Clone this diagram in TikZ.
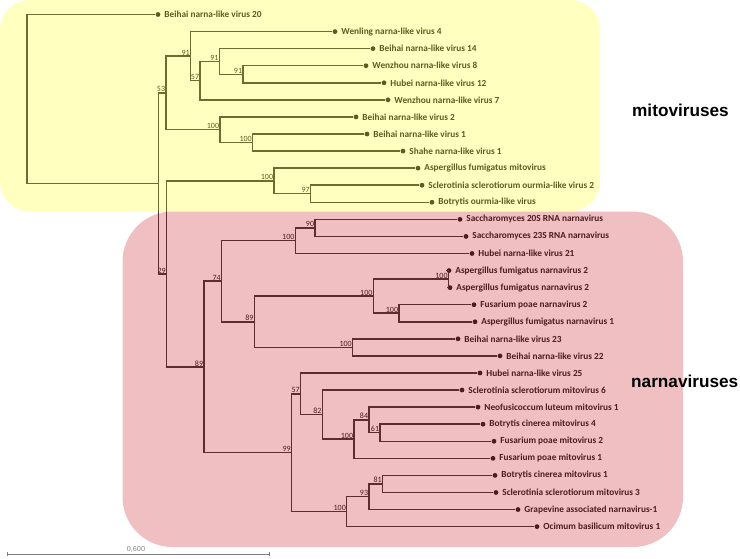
\documentclass[tikz,border=0pt]{standalone}
\usepackage{fontspec}
\setmainfont{Carlito}
\newfontfamily\cladefont{Liberation Sans}
\usetikzlibrary{positioning,arrows.meta}
\definecolor{ink}{HTML}{262626}
\definecolor{mitoyellow}{RGB}{255,255,0}
\definecolor{narnared}{RGB}{190,0,8}
\definecolor{bargray}{HTML}{7F7F7F}
\tikzset{
  branch/.style={draw=ink!90,line width=1.5pt},
  tip/.style={circle,fill=ink,inner sep=0pt,minimum size=4.8pt},
  leaf/.style={anchor=west,inner sep=0pt,xshift=3.6pt,text=ink,font=\bfseries\fontsize{9.3}{11}\selectfont},
  bs/.style={anchor=south east,inner sep=0.7pt,text=ink,font=\fontsize{8}{9}\selectfont},
  cladebox/.style={fill=#1,fill opacity=0.25},
  cladename/.style={anchor=west,inner sep=0pt,font=\cladefont\bfseries\fontsize{17.2}{20}\selectfont},
  scalebar/.style={draw=bargray,line width=0.9pt,{Bar[width=4pt]}-{Bar[width=4pt]}},
}

\begin{document}
\begin{tikzpicture}[x=1pt,y=-1pt]
\useasboundingbox (0,0) rectangle (740,558);
% tips
\node[tip] (l1)  at (158,14.5)  {}; \node[leaf] (t1)  at (l1.east)  {Beihai narna-like virus 20};
\node[tip] (l2)  at (335,31.57) {}; \node[leaf] (t2)  at (l2.east)  {Wenling narna-like virus 4};
\node[tip] (l3)  at (373,48.64) {}; \node[leaf] (t3)  at (l3.east)  {Beihai narna-like virus 14};
\node[tip] (l4)  at (366,65.71) {}; \node[leaf] (t4)  at (l4.east)  {Wenzhou narna-like virus 8};
\node[tip] (l5)  at (384,82.78) {}; \node[leaf] (t5)  at (l5.east)  {Hubei narna-like virus 12};
\node[tip] (l6)  at (388,99.85) {}; \node[leaf] (t6)  at (l6.east)  {Wenzhou narna-like virus 7};
\node[tip] (l7)  at (356,116.92) {}; \node[leaf] (t7)  at (l7.east)  {Beihai narna-like virus 2};
\node[tip] (l8)  at (367,133.99) {}; \node[leaf] (t8)  at (l8.east)  {Beihai narna-like virus 1};
\node[tip] (l9)  at (403,151.06) {}; \node[leaf] (t9)  at (l9.east)  {Shahe narna-like virus 1};
\node[tip] (l10) at (418,168.13) {}; \node[leaf] (t10) at (l10.east) {Aspergillus fumigatus mitovirus};
\node[tip] (l11) at (422,185.2)  {}; \node[leaf] (t11) at (l11.east) {Sclerotinia sclerotiorum ourmia-like virus 2};
\node[tip] (l12) at (432,202.27) {}; \node[leaf] (t12) at (l12.east) {Botrytis ourmia-like virus};
\node[tip] (l13) at (460,219.34) {}; \node[leaf] (t13) at (l13.east) {Saccharomyces 20S RNA narnavirus};
\node[tip] (l14) at (466,236.41) {}; \node[leaf] (t14) at (l14.east) {Saccharomyces 23S RNA narnavirus};
\node[tip] (l15) at (472,253.48) {}; \node[leaf] (t15) at (l15.east) {Hubei narna-like virus 21};
\node[tip] (l16) at (449,270.55) {}; \node[leaf] (t16) at (l16.east) {Aspergillus fumigatus narnavirus 2};
\node[tip] (l17) at (450,287.62) {}; \node[leaf] (t17) at (l17.east) {Aspergillus fumigatus narnavirus 2};
\node[tip] (l18) at (474,304.69) {}; \node[leaf] (t18) at (l18.east) {Fusarium poae narnavirus 2};
\node[tip] (l19) at (475,321.76) {}; \node[leaf] (t19) at (l19.east) {Aspergillus fumigatus narnavirus 1};
\node[tip] (l20) at (458,338.83) {}; \node[leaf] (t20) at (l20.east) {Beihai narna-like virus 23};
\node[tip] (l21) at (500,355.9)  {}; \node[leaf] (t21) at (l21.east) {Beihai narna-like virus 22};
\node[tip] (l22) at (480,372.97) {}; \node[leaf] (t22) at (l22.east) {Hubei narna-like virus 25};
\node[tip] (l23) at (462,390.04) {}; \node[leaf] (t23) at (l23.east) {Sclerotinia sclerotiorum mitovirus 6};
\node[tip] (l24) at (478,407.11) {}; \node[leaf] (t24) at (l24.east) {Neofusicoccum luteum mitovirus 1};
\node[tip] (l25) at (483,424.18) {}; \node[leaf] (t25) at (l25.east) {Botrytis cinerea mitovirus 4};
\node[tip] (l26) at (494,441.25) {}; \node[leaf] (t26) at (l26.east) {Fusarium poae mitovirus 2};
\node[tip] (l27) at (493,458.32) {}; \node[leaf] (t27) at (l27.east) {Fusarium poae mitovirus 1};
\node[tip] (l28) at (495,475.39) {}; \node[leaf] (t28) at (l28.east) {Botrytis cinerea mitovirus 1};
\node[tip] (l29) at (496,492.46) {}; \node[leaf] (t29) at (l29.east) {Sclerotinia sclerotiorum mitovirus 3};
\node[tip] (l30) at (518,509.53) {}; \node[leaf] (t30) at (l30.east) {Grapevine associated narnavirus-1};
\node[tip] (l31) at (537,526.6)  {}; \node[leaf] (t31) at (l31.east) {Ocimum basilicum mitovirus 1};
% internal nodes
\coordinate (r0) at (27,98.97);    \coordinate (A) at (158.3,183.44);
\coordinate (B) at (166,92.92);    \coordinate (C) at (166.7,273.95);
\coordinate (D) at (190.7,56.11);  \coordinate (E) at (220,129.72);
\coordinate (F) at (200,80.65);    \coordinate (G) at (219.3,61.44);
\coordinate (H) at (243,74.25);    \coordinate (I) at (252.7,142.53);
\coordinate (J) at (274,180.93);   \coordinate (L) at (310.7,193.74);
\coordinate (K) at (204,366.97);   \coordinate (M) at (221.7,281.22);
\coordinate (O) at (295.3,240.68); \coordinate (Q) at (315,227.88);
\coordinate (P) at (254.3,321.76); \coordinate (R) at (373.3,296.16);
\coordinate (T) at (448.5,279.09); \coordinate (U) at (399,313.23);
\coordinate (S) at (352.7,347.37); \coordinate (N) at (291.7,452.72);
\coordinate (V) at (300.7,393.78); \coordinate (W) at (322.3,414.58);
\coordinate (X) at (354,439.12);   \coordinate (Y) at (369,419.91);
\coordinate (Z) at (380,432.72);   \coordinate (AA) at (346.7,511.67);
\coordinate (BB) at (369,496.73);  \coordinate (CC) at (382.7,483.93);
% branches
\draw[branch] (r0) |- (l1); \draw[branch] (r0) |- (A);
\draw[branch] (A) |- (B);   \draw[branch] (A) |- (C);
\draw[branch] (B) |- (D);   \draw[branch] (B) |- (E);
\draw[branch] (D) |- (l2);  \draw[branch] (D) |- (F);
\draw[branch] (F) |- (G);   \draw[branch] (F) |- (l6);
\draw[branch] (G) |- (l3);  \draw[branch] (G) |- (H);
\draw[branch] (H) |- (l4);  \draw[branch] (H) |- (l5);
\draw[branch] (E) |- (l7);  \draw[branch] (E) |- (I);
\draw[branch] (I) |- (l8);  \draw[branch] (I) |- (l9);
\draw[branch] (C) |- (J);   \draw[branch] (C) |- (K);
\draw[branch] (J) |- (l10); \draw[branch] (J) |- (L);
\draw[branch] (L) |- (l11); \draw[branch] (L) |- (l12);
\draw[branch] (K) |- (M);   \draw[branch] (K) |- (N);
\draw[branch] (M) |- (O);   \draw[branch] (M) |- (P);
\draw[branch] (O) |- (Q);   \draw[branch] (O) |- (l15);
\draw[branch] (Q) |- (l13); \draw[branch] (Q) |- (l14);
\draw[branch] (P) |- (R);   \draw[branch] (P) |- (S);
\draw[branch] (R) |- (T);   \draw[branch] (R) |- (U);
\draw[branch] (T) |- (l16); \draw[branch] (T) |- (l17);
\draw[branch] (U) |- (l18); \draw[branch] (U) |- (l19);
\draw[branch] (S) |- (l20); \draw[branch] (S) |- (l21);
\draw[branch] (N) |- (V);   \draw[branch] (N) |- (AA);
\draw[branch] (V) |- (l22); \draw[branch] (V) |- (W);
\draw[branch] (W) |- (l23); \draw[branch] (W) |- (X);
\draw[branch] (X) |- (Y);   \draw[branch] (X) |- (l27);
\draw[branch] (Y) |- (l24); \draw[branch] (Y) |- (Z);
\draw[branch] (Z) |- (l25); \draw[branch] (Z) |- (l26);
\draw[branch] (AA) |- (BB); \draw[branch] (AA) |- (l31);
\draw[branch] (BB) |- (CC); \draw[branch] (BB) |- (l30);
\draw[branch] (CC) |- (l28); \draw[branch] (CC) |- (l29);
% bootstrap values
\node[bs] (sB) at (B) {53};   \node[bs] (sD) at (D) {91};   \node[bs] (sF) at (F) {57};
\node[bs] (sG) at (G) {91};   \node[bs] (sH) at (H) {91};   \node[bs] (sE) at (E) {100};
\node[bs] (sI) at (I) {100};  \node[bs] (sC) at (C) {29};   \node[bs] (sJ) at (J) {100};
\node[bs] (sL) at (L) {97};   \node[bs] (sK) at (K) {89};   \node[bs] (sM) at (M) {74};
\node[bs] (sO) at (O) {100};  \node[bs] (sQ) at (Q) {90};   \node[bs] (sP) at (P) {89};
\node[bs] (sR) at (R) {100};  \node[bs] (sT) at (T) {100};  \node[bs] (sU) at (U) {100};
\node[bs] (sS) at (S) {100};  \node[bs] (sN) at (N) {99};   \node[bs] (sV) at (V) {57};
\node[bs] (sW) at (W) {82};   \node[bs] (sX) at (X) {100};  \node[bs] (sY) at (Y) {84};
\node[bs] (sZ) at (Z) {61};   \node[bs] (sAA) at (AA) {100}; \node[bs] (sBB) at (BB) {93};
\node[bs] (sCC) at (CC) {81};
% clade boxes
\fill[cladebox=mitoyellow,rounded corners=30pt] (0,0) rectangle (600,211.5);
\fill[cladebox=narnared,rounded corners=50pt] (122.5,211.5) rectangle (683,547);
\node[cladename] (mito) at (632,110) {mitoviruses};
\node[cladename] (narna) at (631,381) {narnaviruses};
% scale bar
\coordinate (sb0) at (7,554.3); \coordinate (sb1) at (270,554.3); \coordinate (sbm) at (136,554.3);
\draw[scalebar] (sb0) -- (sb1);
\node[above=1.2pt of sbm,inner sep=0pt,text=bargray,font=\cladefont\fontsize{7.2}{8}\selectfont] (sbl) {0,600};
\end{tikzpicture}
\end{document}
